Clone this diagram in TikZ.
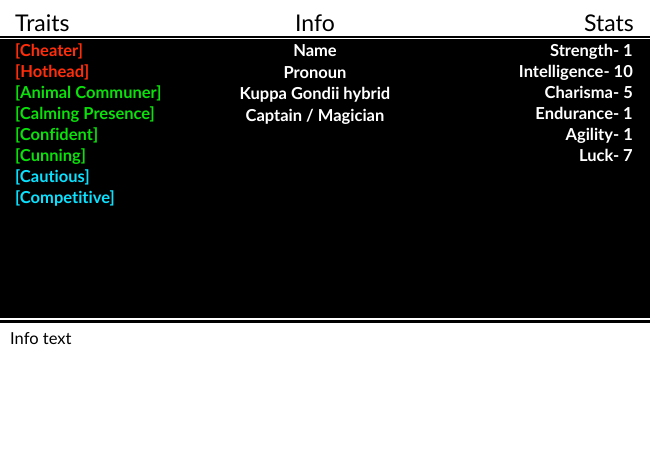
\documentclass[tikz,border=0pt]{standalone}
\usepackage{fontspec}
\setmainfont{Lato}[Ligatures=NoCommon]
\definecolor{tred}{RGB}{255,45,10}
\definecolor{tgreen}{RGB}{10,225,10}
\definecolor{tcyan}{RGB}{10,225,255}
\begin{document}
\begin{tikzpicture}[x=1pt,y=-1pt,
  title/.style={font=\fontsize{23}{23}\selectfont, inner sep=0pt, anchor=base},
  body/.style={font=\fontsize{16.5}{16.5}\selectfont\bfseries, inner sep=0pt, text=white},
  trait/.style={body, anchor=base west},
  info/.style={body, anchor=base},
  stat/.style={body, anchor=base east}]
\useasboundingbox (0,0) rectangle (650,450);
\fill[white] (0,0) rectangle (650,450);
\fill[black] (0,35.5) rectangle (650,37.7);
\fill[black] (0,39) rectangle (650,318);
\fill[black] (0,319.7) rectangle (650,322.8);
\node[title, anchor=base west] (tt) at (15,31) {Traits};
\node[title] (ti) at (315,31) {Info};
\node[title, anchor=base east] (ts) at (634,31) {Stats};
\node[trait, text=tred] (t1) at (15,56) {[Cheater]};
\node[trait, text=tred] (t2) at (15,77) {[Hothead]};
\node[trait, text=tgreen] (t3) at (15,98) {[Animal Communer]};
\node[trait, text=tgreen] (t4) at (15,119) {[Calming Presence]};
\node[trait, text=tgreen] (t5) at (15,140) {[Confident]};
\node[trait, text=tgreen] (t6) at (15,161) {[Cunning]};
\node[trait, text=tcyan] (t7) at (15,182) {[Cautious]};
\node[trait, text=tcyan] (t8) at (15,203) {[Competitive]};
\node[info] (i1) at (315,56) {Name};
\node[info] (i2) at (315,78) {Pronoun};
\node[info] (i3) at (315,99) {Kuppa Gondii hybrid};
\node[info] (i4) at (315,121) {Captain / Magician};
\node[stat] (s1) at (633,56) {Strength- 1};
\node[stat] (s2) at (633,77) {Intelligence- 10};
\node[stat] (s3) at (633,98) {Charisma- 5};
\node[stat] (s4) at (633,119) {Endurance- 1};
\node[stat] (s5) at (633,140) {Agility- 1};
\node[stat] (s6) at (633,161) {Luck- 7};
\node[font=\fontsize{16.5}{16.5}\selectfont, inner sep=0pt, anchor=base west] (it) at (10,344) {Info text};
\end{tikzpicture}
\end{document}
